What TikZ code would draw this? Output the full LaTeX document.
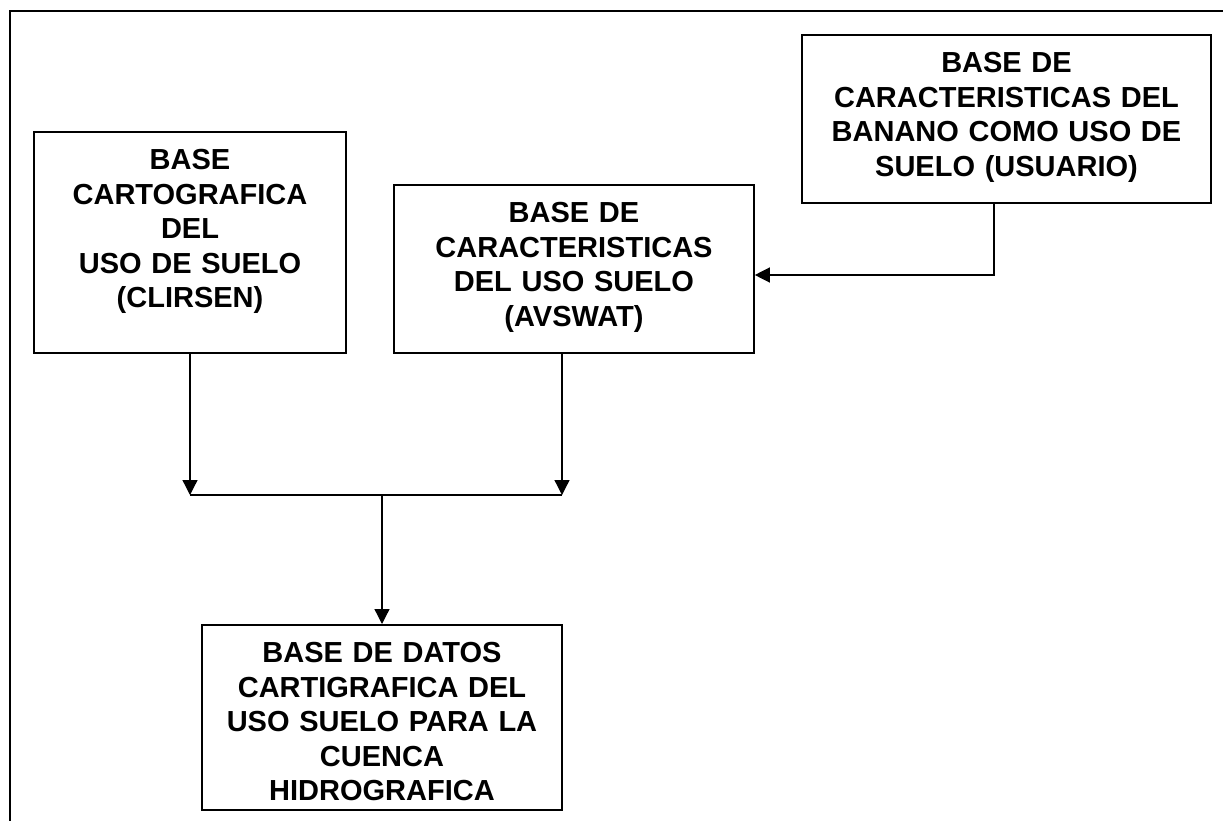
\documentclass[tikz,border=0pt]{standalone}
\usepackage{fontspec}
\setmainfont{Liberation Sans}
\usetikzlibrary{arrows.meta,calc}

\begin{document}
\begin{tikzpicture}[x=1pt, y=-1pt,
    databox/.style={draw, line width=1.6pt, inner sep=0pt, align=center,
        text height=38pt, font=\fontsize{29pt}{34.5pt}\selectfont\bfseries},
    flow/.style={line width=1.3pt, -{Triangle[length=15pt,width=15pt]}}]
    \useasboundingbox (0,0) rectangle (1223,821);

    % Rėmelis
    \draw[line width=1.8pt] (1235,11) -- (10,11) -- (10,835);

    % Duomenų bazės
    \node[databox, anchor=north, text width=312pt, text depth=183pt] (clirsen) at (190,131)
        {BASE\\CARTOGRAFICA\\DEL\\USO DE SUELO\\(CLIRSEN)};
    \node[databox, anchor=north, text width=360pt, text depth=130pt] (avswat) at (574,184)
        {BASE DE\\CARACTERISTICAS\\DEL USO SUELO\\(AVSWAT)};
    \node[databox, anchor=north, text width=409pt, text depth=130pt] (usuario) at (1006.5,34)
        {BASE DE\\CARACTERISTICAS DEL\\BANANO COMO USO DE\\SUELO (USUARIO)};
    \node[databox, anchor=north, text width=360pt, text depth=147pt] (datos) at (382,624)
        {BASE DE DATOS\\CARTIGRAFICA DEL\\USO SUELO PARA LA\\CUENCA\\HIDROGRAFICA};

    % Jungtys
    \coordinate (barR) at (562,495);
    \coordinate (barL) at (clirsen.south |- barR);
    \coordinate (bend) at (994,275);

    \draw[flow] (clirsen.south) -- (barL);
    \draw[flow] (avswat.south -| barR) -- (barR);
    \draw[line width=1.3pt] (barL) -- (barR);
    \draw[flow] (datos.north |- barR) -- (datos.north);
    \draw[flow] (usuario.south -| bend) |- (avswat.east |- bend);
\end{tikzpicture}
\end{document}
